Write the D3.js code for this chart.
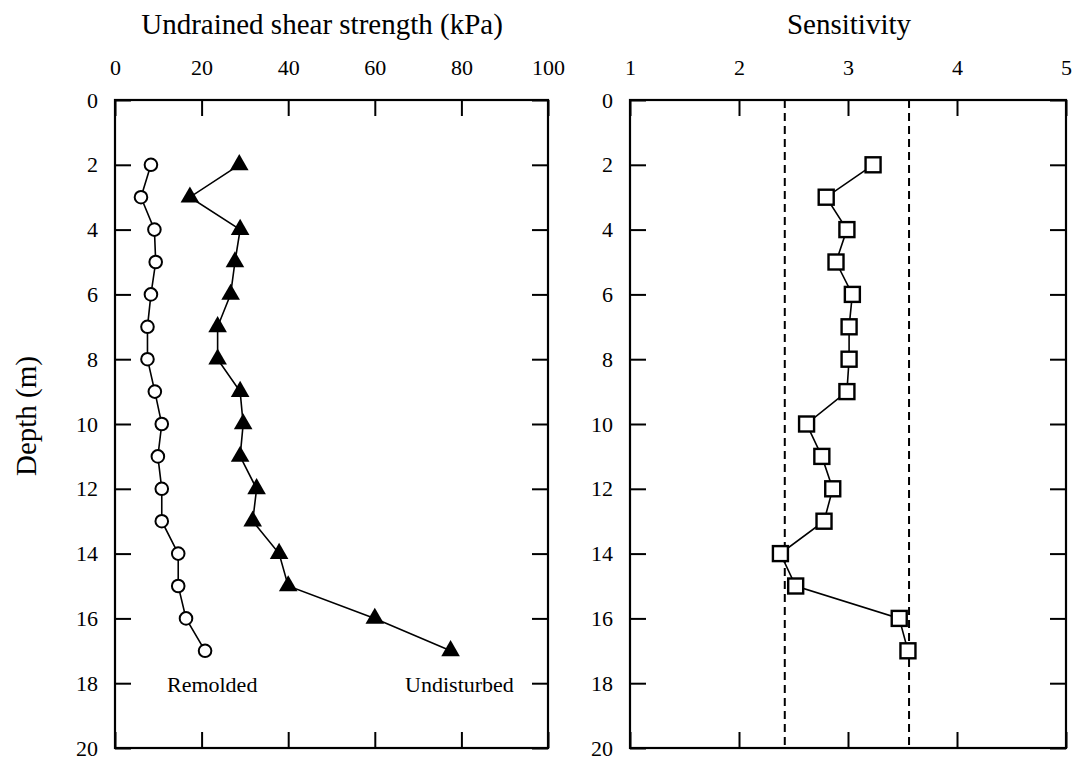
<!DOCTYPE html>
<html lang="en">
<head>
<meta charset="UTF-8">
<title>Shear strength and sensitivity profile</title>
<script src="https://d3js.org/d3.v7.min.js"></script>
<style>
  body { margin: 0; background: #fff; }
  svg { font-family: "Liberation Serif", "Times New Roman", serif; }
  .tick line { stroke: #000; stroke-width: 2px; }
  .tick text { font-size: 22px; fill: #000; }
</style>
</head>
<body>
<svg id="chart" width="1073" height="757"></svg>
<script>
// depth of each sample (m)
var depths = [2, 3, 4, 5, 6, 7, 8, 9, 10, 11, 12, 13, 14, 15, 16, 17];
// undrained shear strength (kPa)
var remolded    = [8.3, 6.0, 9.1, 9.4, 8.3, 7.5, 7.5, 9.2, 10.8, 9.9, 10.8, 10.8, 14.6, 14.6, 16.4, 20.8];
var undisturbed = [28.7, 17.3, 28.9, 27.7, 26.7, 23.7, 23.7, 28.9, 29.6, 28.9, 32.7, 31.8, 37.9, 40.0, 60.0, 77.5];
// sensitivity
var sensitivity = [3.23, 2.80, 2.99, 2.89, 3.04, 3.01, 3.01, 2.99, 2.62, 2.76, 2.86, 2.78, 2.38, 2.52, 3.47, 3.55];
var sensBounds = [2.42, 3.56];

var strengthTicks = [0, 20, 40, 60, 80, 100];
var sensTicks = [1, 2, 3, 4, 5];
var depthTicks = [0, 2, 4, 6, 8, 10, 12, 14, 16, 18, 20];

var svg = d3.select("#chart");
var yTop = 100, yBottom = 748, tickLen = 16;

var y = d3.scaleLinear().domain([0, 20]).range([yTop, yBottom]);
var xS = d3.scaleLinear().domain([0, 100]).range([115, 548]);
var xT = d3.scaleLinear().domain([1, 5]).range([630, 1066]);

function panel(x, ticks) {
  var g = svg.append("g");
  var r = x.range();
  // ticks all round, labels only top and left
  g.append("g").attr("transform", `translate(0,${yTop})`)
    .call(d3.axisTop(x).tickValues(ticks).tickFormat(d3.format("d"))
      .tickSizeInner(-tickLen).tickSizeOuter(0).tickPadding(25));
  g.append("g").attr("transform", `translate(0,${yBottom})`)
    .call(d3.axisBottom(x).tickValues(ticks).tickSizeInner(-tickLen).tickSizeOuter(0).tickFormat(""));
  g.append("g").attr("transform", `translate(${r[0]},0)`)
    .call(d3.axisLeft(y).tickValues(depthTicks).tickSizeInner(-tickLen).tickSizeOuter(0).tickPadding(17));
  g.append("g").attr("transform", `translate(${r[1]},0)`)
    .call(d3.axisRight(y).tickValues(depthTicks).tickSizeInner(-tickLen).tickSizeOuter(0).tickFormat(""));
  g.selectAll(".domain").remove();
  g.selectAll("g").attr("font-family", null).attr("font-size", null);
  g.append("rect")
    .attr("x", r[0]).attr("y", yTop)
    .attr("width", r[1] - r[0]).attr("height", yBottom - yTop)
    .attr("fill", "none").attr("stroke", "#000").attr("stroke-width", 2.2);
  return g;
}

var left = panel(xS, strengthTicks);
var right = panel(xT, sensTicks);

function series(g, x, vals) {
  var pts = depths.map((d, i) => [x(vals[i]), y(d)]);
  g.append("path")
    .attr("d", d3.line()(pts))
    .attr("fill", "none").attr("stroke", "#000").attr("stroke-width", 1.6);
  return g.selectAll(null).data(pts).join("g")
    .attr("transform", d => `translate(${d[0]},${d[1]})`);
}

// remolded: open circles
series(left, xS, remolded).append("circle")
  .attr("r", 6.3).attr("fill", "#fff").attr("stroke", "#000").attr("stroke-width", 2);

// undisturbed: filled triangles
series(left, xS, undisturbed).append("path")
  .attr("d", d3.symbol(d3.symbolTriangle, 150)())
  .attr("fill", "#000");

// sensitivity bounds
right.selectAll(".bound").data(sensBounds).join("line")
  .attr("x1", d => xT(d)).attr("x2", d => xT(d))
  .attr("y1", yTop).attr("y2", yBottom)
  .attr("stroke", "#000").attr("stroke-width", 2).attr("stroke-dasharray", "8,5");

// sensitivity: open squares
series(right, xT, sensitivity).append("rect")
  .attr("x", -7.5).attr("y", -7.5).attr("width", 15).attr("height", 15)
  .attr("fill", "#fff").attr("stroke", "#000").attr("stroke-width", 2.4);

// labels
svg.append("text").attr("x", 322).attr("y", 34).attr("text-anchor", "middle")
  .style("font-size", "29px").text("Undrained shear strength (kPa)");
svg.append("text").attr("x", 849).attr("y", 34).attr("text-anchor", "middle")
  .style("font-size", "29px").text("Sensitivity");
svg.append("text").attr("transform", `translate(36,${y(10) - 8}) rotate(-90)`)
  .attr("text-anchor", "middle").style("font-size", "29px").text("Depth (m)");

left.append("text").attr("x", xS(12)).attr("y", y(18) + 9)
  .style("font-size", "22px").text("Remolded");
left.append("text").attr("x", xS(67)).attr("y", y(18) + 9)
  .style("font-size", "22px").text("Undisturbed");
</script>
</body>
</html>
